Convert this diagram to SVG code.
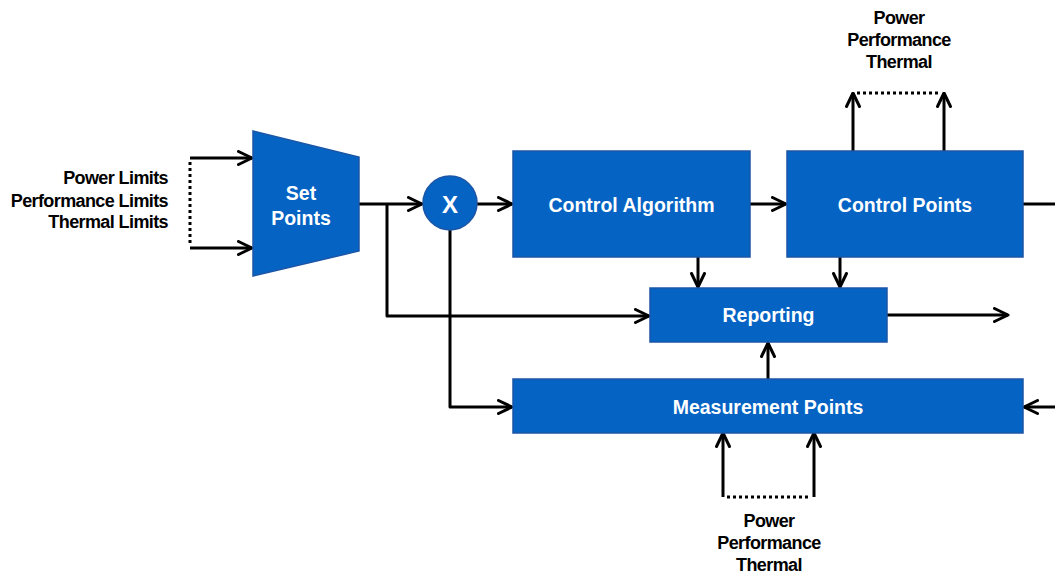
<svg xmlns="http://www.w3.org/2000/svg" width="1055" height="573" viewBox="0 0 1055 573">
  <style>
    .block { fill: #0563C4; stroke: #1B56A6; stroke-width: 1.5; }
    .label-w { font-family: "Liberation Sans", Arial, sans-serif; font-weight: bold; font-size: 19.5px; fill: #FFFFFF; text-anchor: middle; }
    .label-k { font-family: "Liberation Sans", Arial, sans-serif; font-weight: bold; font-size: 18px; fill: #000000; letter-spacing: -0.6px; }
    .wire { fill: none; stroke: #000000; stroke-width: 3; stroke-linejoin: round; }
    .dots { fill: none; stroke: #000000; stroke-width: 3; stroke-dasharray: 3 3; }
  </style>
  <defs>
    <!-- open chevron arrowhead -->
    <marker id="arrow" viewBox="0 0 17 16" refX="15.5" refY="8" markerWidth="17" markerHeight="16" markerUnits="userSpaceOnUse" orient="auto">
      <path d="M2,1.5 L15.5,8 L2,14.5" fill="none" stroke="#000000" stroke-width="3" stroke-linecap="round" stroke-linejoin="round"/>
    </marker>
  </defs>

  <rect width="1055" height="573" fill="#FFFFFF"/>

  <!-- connectors -->
  <g id="connectors">
    <!-- limit inputs into set points -->
    <path class="wire" d="M190,158 L252,158" marker-end="url(#arrow)"/>
    <path class="wire" d="M190,248 L252,248" marker-end="url(#arrow)"/>
    <path class="dots" d="M190,162 L190,246"/>
    <!-- set points to multiplier -->
    <path class="wire" d="M359,204 L422,204" marker-end="url(#arrow)"/>
    <!-- set points branch to reporting -->
    <path class="wire" d="M387,204 L387,316 L649,316" marker-end="url(#arrow)"/>
    <!-- multiplier to control algorithm -->
    <path class="wire" d="M477,204 L512,204" marker-end="url(#arrow)"/>
    <!-- multiplier down to measurement points -->
    <path class="wire" d="M450,230 L450,407 L512,407" marker-end="url(#arrow)"/>
    <!-- control algorithm to control points -->
    <path class="wire" d="M750,204 L786,204" marker-end="url(#arrow)"/>
    <!-- control points output -->
    <path class="wire" d="M1023,204 L1055,204"/>
    <!-- into reporting from above -->
    <path class="wire" d="M698,257 L698,287" marker-end="url(#arrow)"/>
    <path class="wire" d="M840,257 L840,287" marker-end="url(#arrow)"/>
    <!-- reporting output -->
    <path class="wire" d="M887,315 L1008,315" marker-end="url(#arrow)"/>
    <!-- measurement points up to reporting -->
    <path class="wire" d="M768,379 L768,343" marker-end="url(#arrow)"/>
    <!-- external feed into measurement points -->
    <path class="wire" d="M1055,407 L1024,407" marker-end="url(#arrow)"/>
    <!-- control points outputs upward -->
    <path class="wire" d="M853,151 L853,93" marker-end="url(#arrow)"/>
    <path class="wire" d="M944,151 L944,93" marker-end="url(#arrow)"/>
    <path class="dots" d="M857,93 L941,93"/>
    <!-- sensed inputs into measurement points -->
    <path class="wire" d="M723,497 L723,433" marker-end="url(#arrow)"/>
    <path class="wire" d="M814,497 L814,433" marker-end="url(#arrow)"/>
    <path class="dots" d="M727,497 L811,497"/>
  </g>

  <!-- nodes -->
  <g id="set-points">
    <polygon class="block" points="253,131 359,157 359,251 253,276"/>
    <text class="label-w" x="301" y="200">Set</text>
    <text class="label-w" x="301" y="225">Points</text>
  </g>

  <g id="multiplier">
    <circle class="block" cx="450" cy="203" r="27"/>
    <text class="label-w" x="450" y="213" style="font-size:24px">X</text>
  </g>

  <g id="control-algorithm">
    <rect class="block" x="513" y="151" width="237" height="106"/>
    <text class="label-w" x="631.5" y="212">Control Algorithm</text>
  </g>

  <g id="control-points">
    <rect class="block" x="787" y="151" width="236" height="106"/>
    <text class="label-w" x="905" y="212">Control Points</text>
  </g>

  <g id="reporting">
    <rect class="block" x="650" y="288" width="237" height="54"/>
    <text class="label-w" x="768.5" y="322">Reporting</text>
  </g>

  <g id="measurement-points">
    <rect class="block" x="513" y="379" width="510" height="54"/>
    <text class="label-w" x="768" y="414">Measurement Points</text>
  </g>

  <!-- annotations -->
  <g id="limits-label">
    <text class="label-k" x="168" y="184" text-anchor="end">Power Limits</text>
    <text class="label-k" x="168" y="207" text-anchor="end">Performance Limits</text>
    <text class="label-k" x="168" y="228" text-anchor="end">Thermal Limits</text>
  </g>

  <g id="control-outputs-label">
    <text class="label-k" x="899" y="24" text-anchor="middle">Power</text>
    <text class="label-k" x="899" y="46" text-anchor="middle">Performance</text>
    <text class="label-k" x="899" y="68" text-anchor="middle">Thermal</text>
  </g>

  <g id="measured-inputs-label">
    <text class="label-k" x="769" y="527" text-anchor="middle">Power</text>
    <text class="label-k" x="769" y="549" text-anchor="middle">Performance</text>
    <text class="label-k" x="769" y="571" text-anchor="middle">Thermal</text>
  </g>
</svg>
